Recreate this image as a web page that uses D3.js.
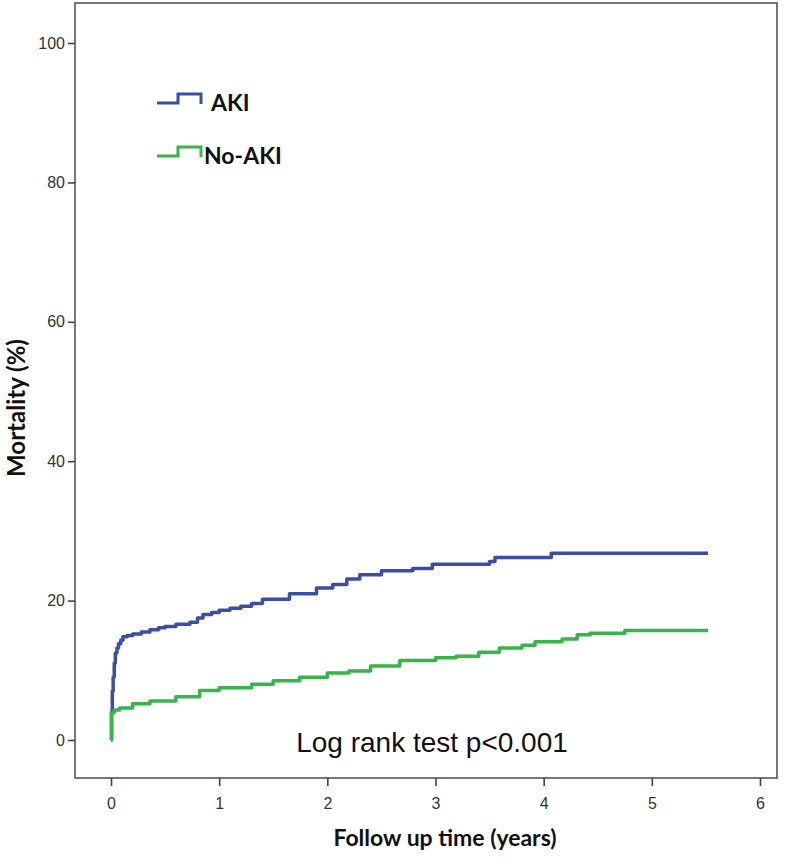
<!DOCTYPE html>
<html><head><meta charset="utf-8">
<script src="https://cdn.jsdelivr.net/npm/d3@7"></script>
<style>body{margin:0;background:#fff}svg{display:block}</style>
</head><body><svg id="c" width="800" height="867"></svg>
<script>
// Data (time in years, cumulative mortality %)
const akiTime = [0, 0.005, 0.012, 0.02, 0.03, 0.04, 0.055, 0.07, 0.09, 0.11, 0.15, 0.2, 0.28, 0.36, 0.44, 0.5, 0.6, 0.73, 0.8, 0.85, 0.93, 1.0, 1.1, 1.2, 1.3, 1.4, 1.65, 1.9, 2.05, 2.18, 2.3, 2.5, 2.79, 2.97, 3.5, 3.55, 4.07, 5.52];
const akiValue = [0, 4, 7, 9, 11, 12.5, 13.2, 13.8, 14.3, 14.8, 15.0, 15.2, 15.5, 15.8, 16.1, 16.3, 16.6, 16.9, 17.5, 18.0, 18.3, 18.6, 18.9, 19.2, 19.6, 20.2, 21.0, 21.8, 22.3, 23.1, 23.7, 24.3, 24.6, 25.2, 25.6, 26.2, 26.8, 26.8];
const noAkiTime = [0, 0.005, 0.03, 0.08, 0.2, 0.36, 0.6, 0.82, 1.0, 1.3, 1.5, 1.745, 2.0, 2.2, 2.4, 2.67, 3.0, 3.19, 3.4, 3.59, 3.8, 3.92, 4.17, 4.31, 4.43, 4.75, 5.52];
const noAkiValue = [0, 3.9, 4.3, 4.6, 5.2, 5.6, 6.2, 7.1, 7.5, 8.0, 8.5, 9.0, 9.6, 9.9, 10.6, 11.4, 11.8, 12.0, 12.6, 13.2, 13.6, 14.1, 14.5, 15.1, 15.3, 15.7, 15.7];
const xTicks = [0, 1, 2, 3, 4, 5, 6];
const yTicks = [0, 20, 40, 60, 80, 100];
const seriesNames = ["AKI", "No-AKI"];
const seriesColors = ["#3b4ea6", "#38b449"];

const svg = d3.select("#c");
const L = 75, R = 777, T = 3, B = 778;
const x = d3.scaleLinear().domain([0, 6]).range([111, 760]);
const y = d3.scaleLinear().domain([0, 100]).range([740, 43]);

// frame
svg.append("rect").attr("x", L).attr("y", T).attr("width", R - L).attr("height", B - T)
  .attr("fill", "none").attr("stroke", "#555").attr("stroke-width", 1.6);

// axes
const xAxis = svg.append("g").attr("transform", `translate(0,${B})`)
  .call(d3.axisBottom(x).tickValues(xTicks).tickSize(8).tickPadding(12).tickFormat(d3.format("d")));
const yAxis = svg.append("g").attr("transform", `translate(${L},0)`)
  .call(d3.axisLeft(y).tickValues(yTicks).tickSize(7).tickPadding(3).tickFormat(d3.format("d")));
[xAxis, yAxis].forEach(a => {
  a.select(".domain").remove();
  a.selectAll(".tick line").attr("stroke", "#444").attr("stroke-width", 1.6);
  a.selectAll(".tick text").attr("fill", "#333").attr("font-family", "Liberation Sans, Arial, sans-serif").attr("font-size", 16);
});

// curves
const line = d3.line().x(d => x(d[0])).y(d => y(d[1])).curve(d3.curveStepAfter);
const series = [d3.zip(akiTime, akiValue), d3.zip(noAkiTime, noAkiValue)];
series.forEach((s, i) => {
  svg.append("path").datum(s).attr("d", line).attr("fill", "none")
    .attr("stroke", seriesColors[i]).attr("stroke-width", 3.5).attr("stroke-linejoin", "round");
});

// legend
const legY = [103, 156];
seriesNames.forEach((n, i) => {
  const yy = legY[i];
  svg.append("path").attr("d", `M157,${yy} H178 V${yy - 9} H201 V${yy + 1}`)
    .attr("fill", "none").attr("stroke", seriesColors[i]).attr("stroke-width", 3);
  svg.append("text").attr("x", i === 0 ? 211 : 204).attr("y", yy + 8).text(n)
    .attr("font-family", "Lato, sans-serif").attr("font-weight", "bold").attr("font-size", 23).attr("fill", "#111");
});

// annotation
svg.append("text").attr("x", 432).attr("y", 752).attr("text-anchor", "middle")
  .attr("font-family", "Liberation Sans, Arial, sans-serif").attr("font-size", 28).attr("fill", "#111")
  .text("Log rank test p<0.001");

// axis titles
svg.append("text").attr("x", 445).attr("y", 846).attr("text-anchor", "middle")
  .attr("font-family", "Lato, sans-serif").attr("font-weight", "bold").attr("font-size", 23).attr("fill", "#111")
  .text("Follow up time (years)");
svg.append("text").attr("transform", "translate(25,408) rotate(-90)").attr("text-anchor", "middle")
  .attr("font-family", "Lato, sans-serif").attr("font-weight", "bold").attr("font-size", 24).attr("fill", "#111")
  .text("Mortality (%)");
</script></body></html>
